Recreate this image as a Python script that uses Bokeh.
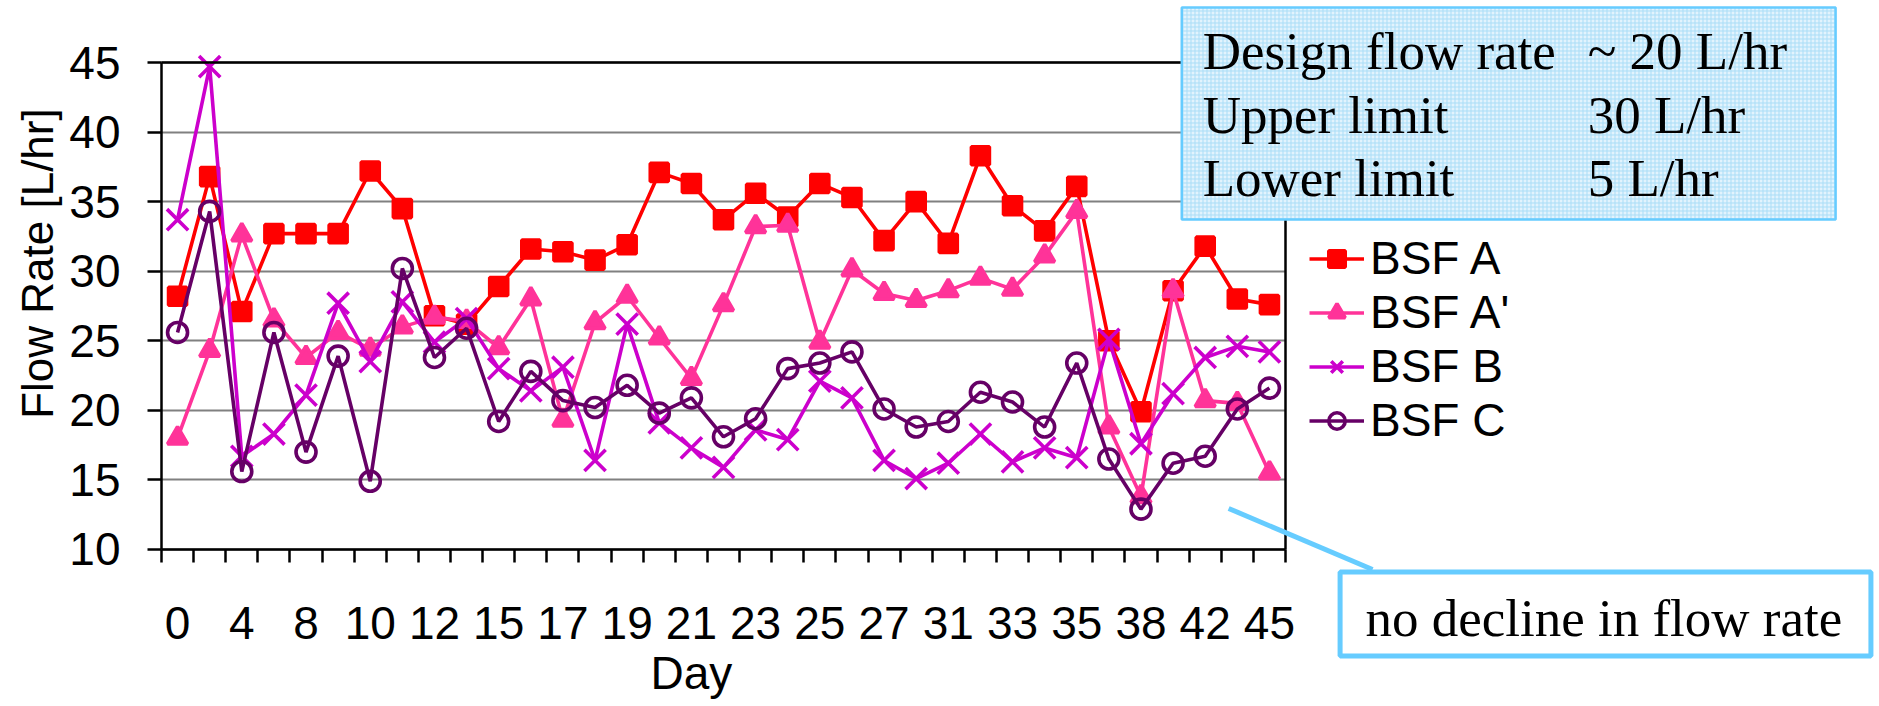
import math
from bokeh.plotting import figure
from bokeh.models import (Range1d, FixedTicker, CustomJSTickFormatter, Legend, LegendItem,
                          Label, BoxAnnotation, PolyAnnotation, LinearAxis, Grid)
from bokeh.embed import file_html
from bokeh.resources import INLINE

# ---------------- data ----------------
days = ["0", "2", "4", "6", "8", "9", "10", "11", "12", "14", "15", "16", "17", "18", "19",
        "20", "21", "22", "23", "24", "25", "26", "27", "29", "31", "32", "33", "34", "35",
        "37", "38", "40", "42", "44", "45"]

bsf_a = [28.2, 36.8, 27.1, 32.7, 32.7, 32.7, 37.2, 34.5, 26.8, 26.2, 28.9, 31.6, 31.4, 30.8, 31.9,
         37.1, 36.3, 33.7, 35.6, 33.9, 36.3, 35.3, 32.2, 35.0, 32.0, 38.3, 34.7, 32.9, 36.1, 25.0,
         19.9, 28.6, 31.8, 28.0, 27.6]
bsf_a2 = [18.0, 24.3, 32.6, 26.5, 23.8, 25.6, 24.4, 26.0, 26.7, 26.4, 24.5, 28.0, 19.3, 26.3, 28.2,
          25.2, 22.3, 27.6, 33.2, 33.3, 24.9, 30.1, 28.4, 27.9, 28.6, 29.5, 28.7, 31.1, 34.3, 18.8,
          13.8, 28.6, 20.7, 20.5, 15.5]
bsf_b = [33.7, 44.7, 16.7, 18.3, 21.1, 27.7, 23.5, 27.8, 24.9, 26.6, 23.0, 21.4, 23.1, 16.4, 26.2,
         19.1, 17.3, 15.9, 18.6, 17.9, 22.1, 20.9, 16.4, 15.1, 16.2, 18.3, 16.3, 17.3, 16.6, 25.1,
         17.6, 21.2, 23.8, 24.6, 24.2]
bsf_c = [25.6, 34.3, 15.6, 25.6, 17.0, 23.9, 14.9, 30.2, 23.8, 25.9, 19.2, 22.8, 20.7, 20.2, 21.8,
         19.8, 20.9, 18.1, 19.4, 23.0, 23.4, 24.2, 20.1, 18.8, 19.2, 21.3, 20.6, 18.8, 23.4, 16.5,
         12.9, 16.2, 16.7, 20.1, 21.6]

series_names = ["BSF A", "BSF A'", "BSF B", "BSF C"]
y_ticks = [10, 15, 20, 25, 30, 35, 40, 45]
y_min, y_max = 10, 45

info_left = ["Design flow rate", "Upper limit", "Lower limit"]
info_right = ["~ 20 L/hr", "30 L/hr", "5 L/hr"]
callout_text = "no decline in flow rate"

x = list(range(len(days)))
x_lo, x_hi = -0.5, len(days) - 0.5

SANS = "Liberation Sans"
SERIF = "Liberation Serif"
BLUE = "#66CCFF"

# The whole canvas is the frame; the chart's own axes sit at fixed locations inside it,
# so the legend, notes and callout outside the plot area are not clipped.
p = figure(width=1879, height=706,
           x_range=Range1d(-5.5134, 52.997), y_range=Range1d(-1.284, 49.456),
           x_axis_location=None, y_axis_location=None, min_border=0,
           output_backend="svg", toolbar_location=None)
p.background_fill_color = "white"
p.border_fill_color = "white"
p.outline_line_color = None
for g in p.grid:
    g.visible = False

# horizontal grid lines limited to the plot area
try:
    grid = Grid(dimension=1, ticker=FixedTicker(ticks=y_ticks), bounds=(y_min, y_max),
                cross_bounds=(x_lo, x_hi), grid_line_color="#808080", grid_line_width=2)
    p.add_layout(grid, "center")
except Exception:
    p.multi_line([[x_lo, x_hi] for _ in y_ticks], [[t, t] for t in y_ticks],
                 line_color="#808080", line_width=2)

# x axis (category style: ticks between categories, labels every second category)
xax = LinearAxis(fixed_location=y_min, bounds=(x_lo, x_hi),
                 ticker=FixedTicker(ticks=list(range(0, len(days), 2)),
                                    minor_ticks=[i - 0.5 for i in range(len(days) + 1)]),
                 formatter=CustomJSTickFormatter(args=dict(labels=days),
                                                 code="return labels[Math.round(tick)];"))
xax.major_tick_out = 0
xax.major_tick_in = 0
xax.minor_tick_out = 13
xax.minor_tick_in = 0
xax.minor_tick_line_color = "black"
xax.minor_tick_line_width = 2.5
xax.axis_line_color = "black"
xax.axis_line_width = 2.5
xax.major_label_text_font = SANS
xax.major_label_text_font_size = "46px"
xax.major_label_text_color = "black"
xax.major_label_standoff = 45
p.add_layout(xax, "below")

yax = LinearAxis(fixed_location=x_lo, bounds=(y_min, y_max),
                 ticker=FixedTicker(ticks=y_ticks, minor_ticks=[]))
yax.major_tick_out = 14
yax.major_tick_in = 0
yax.major_tick_line_color = "black"
yax.major_tick_line_width = 2.5
yax.minor_tick_out = 0
yax.axis_line_color = "black"
yax.axis_line_width = 2.5
yax.major_label_text_font = SANS
yax.major_label_text_font_size = "46px"
yax.major_label_text_color = "black"
yax.major_label_standoff = 27
p.add_layout(yax, "left")

# plot-area border: top and right
for loc, side, bnds in [(y_max, "above", (x_lo, x_hi)), (x_hi, "right", (y_min, y_max))]:
    b = LinearAxis(fixed_location=loc, bounds=bnds, ticker=FixedTicker(ticks=[], minor_ticks=[]))
    b.axis_line_color = "black"
    b.axis_line_width = 2.5
    b.major_tick_out = 0
    b.minor_tick_out = 0
    b.major_label_text_alpha = 0
    p.add_layout(b, side)

styles = [
    (bsf_a, "#FF0000", "square", 18, 1.0),
    (bsf_a2, "#FF3399", "triangle", 20, 1.0),
    (bsf_b, "#CC00CC", "x", 30, 1.0),
    (bsf_c, "#660066", "circle", 20, 0.0),
]
items = []
for name, (vals, col, mk, sz, fa) in zip(series_names, styles):
    r1 = p.line(x, vals, line_color=col, line_width=3.6)
    r2 = p.scatter(x, vals, marker=mk, size=sz, line_color=col, fill_color=col,
                   fill_alpha=fa, line_width=3.6)
    items.append(LegendItem(label=name, renderers=[r1, r2]))

legend = Legend(items=items, location=(1309, 259), margin=0, padding=0,
                border_line_color=None, background_fill_alpha=0,
                label_text_font=SANS, label_text_font_size="46px", label_text_color="black",
                glyph_width=55, glyph_height=41, label_height=41, spacing=-3,
                label_standoff=6)
p.add_layout(legend, "center")

# axis titles
p.add_layout(Label(x=-4.36, y=30.55, text="Flow Rate [L/hr]", angle=math.pi / 2,
                   text_align="center", text_baseline="middle",
                   text_font=SANS, text_font_size="44px", text_color="black"))
p.add_layout(Label(x=16.0, y=1.1, text="Day", text_align="center",
                   text_baseline="alphabetic",
                   text_font=SANS, text_font_size="46px", text_color="black"))

# info box (top right)
p.add_layout(BoxAnnotation(left=31.27, right=51.63, bottom=33.72, top=48.95,
                           fill_color="#E2F3FD", fill_alpha=1.0,
                           hatch_pattern="+", hatch_color="#A9DDF7", hatch_scale=4,
                           hatch_weight=1, hatch_alpha=1.0,
                           line_color=BLUE, line_alpha=1.0, line_width=2.5))
ys_info = [45.83, 41.23, 36.70]
for t1, t2, yy in zip(info_left, info_right, ys_info):
    p.add_layout(Label(x=31.92, y=yy, text=t1, text_baseline="alphabetic",
                       text_font=SERIF, text_font_size="53px", text_color="black"))
    p.add_layout(Label(x=43.91, y=yy, text=t2, text_baseline="alphabetic",
                       text_font=SERIF, text_font_size="53px", text_color="black"))

# callout
p.add_layout(PolyAnnotation(xs=[32.73, 37.21], ys=[12.95, 8.56], fill_alpha=0,
                            line_color=BLUE, line_alpha=1.0, line_width=5))
p.add_layout(BoxAnnotation(left=36.2, right=52.73, bottom=2.35, top=8.38,
                           fill_color="white", fill_alpha=1.0,
                           line_color=BLUE, line_alpha=1.0, line_width=5))
p.add_layout(Label(x=36.99, y=5.08, text=callout_text, text_baseline="alphabetic",
                   text_font=SERIF, text_font_size="53px", text_color="black"))

open("out.html", "w").write(file_html(p, INLINE))
